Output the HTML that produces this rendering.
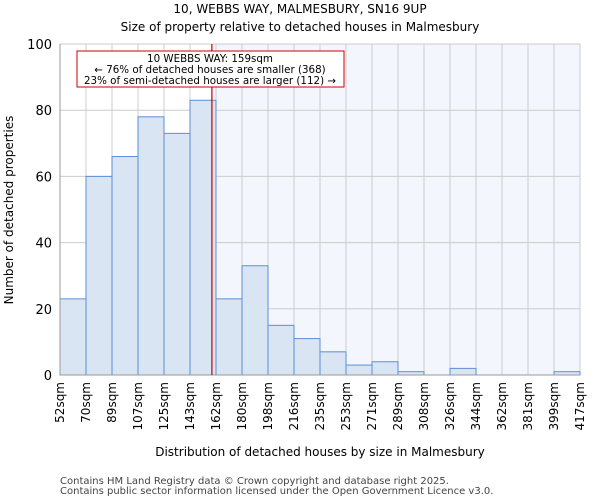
<!DOCTYPE html>
<html><head><meta charset="utf-8"><style>
body{margin:0;background:#fff;font-family:"DejaVu Sans","Liberation Sans",sans-serif;}
</style></head><body>
<svg id="chart" width="600" height="500" xmlns="http://www.w3.org/2000/svg" font-family="DejaVu Sans, Liberation Sans, sans-serif">
<text x="300" y="13" text-anchor="middle" font-size="12">10, WEBBS WAY, MALMESBURY, SN16 9UP</text>
<text x="300" y="31" text-anchor="middle" font-size="12">Size of property relative to detached houses in Malmesbury</text>
<g id="plot"></g>
<text x="320" y="456" text-anchor="middle" font-size="12">Distribution of detached houses by size in Malmesbury</text>
<text transform="translate(13,210) rotate(-90)" text-anchor="middle" font-size="12">Number of detached properties</text>
<text x="60" y="484" font-size="10" fill="#444">Contains HM Land Registry data © Crown copyright and database right 2025.</text>
<text x="60" y="494" font-size="10" fill="#444">Contains public sector information licensed under the Open Government Licence v3.0.</text>
</svg>
<script>
const binLabels=["52sqm","70sqm","89sqm","107sqm","125sqm","143sqm","162sqm","180sqm","198sqm","216sqm","235sqm","253sqm","271sqm","289sqm","308sqm","326sqm","344sqm","362sqm","381sqm","399sqm","417sqm"];
const counts=[23,60,66,78,73,83,23,33,15,11,7,3,4,1,0,2,0,0,0,1];
const yTicks=[0,20,40,60,80,100];
const subjectSize=159;
const binEdges=[52,70,89,107,125,143,162,180,198,216,235,253,271,289,308,326,344,362,381,399,417];
const L=60,R=580,T=44,B=375,yMax=100;
const n=counts.length,bw=(R-L)/n;
const ns="http://www.w3.org/2000/svg";
const g=document.getElementById('plot');
function y(v){return B-(B-T)*v/yMax;}
function xs(s){for(let i=0;i<n;i++){if(s<=binEdges[i+1])return L+bw*(i+(s-binEdges[i])/(binEdges[i+1]-binEdges[i]));}return R;}
function mk(t,a){const e=document.createElementNS(ns,t);for(const k in a)e.setAttribute(k,a[k]);g.appendChild(e);return e;}
const sx=xs(subjectSize);
let e=mk('rect',{x:sx,y:T,width:R-sx,height:B-T,fill:'#f3f6fd'});


yTicks.forEach(v=>{let l=mk('line',{x1:L,x2:R,y1:y(v),y2:y(v),stroke:'#ccc','stroke-width':1});


let t=mk('text',{x:L-8,y:y(v)+5,'text-anchor':'end','font-size':13});t.textContent=v;

});
binLabels.forEach((s,i)=>{const x=L+bw*i;let l=mk('line',{x1:x,x2:x,y1:T,y2:B,stroke:'#ccc','stroke-width':1});


let t=mk('text',{transform:`translate(${x+4},${B+7}) rotate(-90)`,'text-anchor':'end','font-size':12});t.textContent=s;

});
counts.forEach((c,i)=>{let r=mk('rect',{x:L+bw*i,y:y(c),width:bw,height:B-y(c),fill:'#dae5f4',stroke:'#5b8fd6','stroke-width':1});

});
e=mk('line',{x1:L,x2:L,y1:T,y2:B,stroke:'#999'});


e=mk('line',{x1:L,x2:R,y1:B,y2:B,stroke:'#999'});


e=mk('line',{x1:sx,x2:sx,y1:T,y2:B,stroke:'#cc0000','stroke-width':1.2});


e=mk('rect',{x:77,y:51,width:267,height:36,fill:'#fff',stroke:'#cc0000','stroke-width':1});


["10 WEBBS WAY: 159sqm","← 76% of detached houses are smaller (368)","23% of semi-detached houses are larger (112) →"].forEach((s,i)=>{let t=mk('text',{x:210,y:62+i*11,'text-anchor':'middle','font-size':10.3});t.textContent=s;

});
</script>
</body></html>
